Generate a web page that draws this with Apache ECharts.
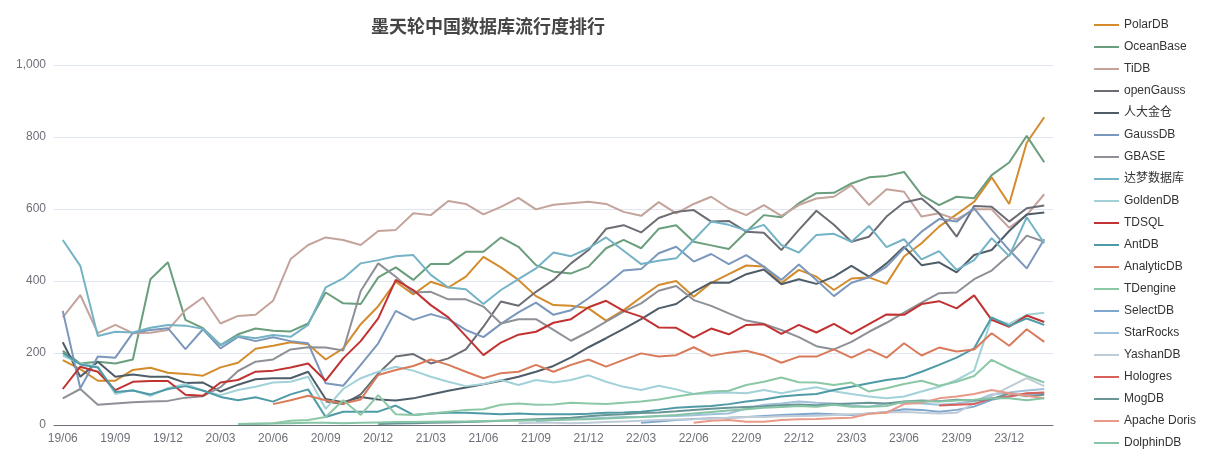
<!DOCTYPE html>
<html>
<head>
<meta charset="utf-8">
<script src="https://cdn.jsdelivr.net/npm/echarts@6/dist/echarts.min.js"></script>
<style>html,body{margin:0;padding:0;background:#fff}#c{width:1213px;height:461px}</style>
</head>
<body>
<div id="c"></div>
<script>
const months = ['19/06','19/07','19/08','19/09','19/10','19/11','19/12',
'20/01','20/02','20/03','20/04','20/05','20/06','20/07','20/08','20/09','20/10','20/11','20/12',
'21/01','21/02','21/03','21/04','21/05','21/06','21/07','21/08','21/09','21/10','21/11','21/12',
'22/01','22/02','22/03','22/04','22/05','22/06','22/07','22/08','22/09','22/10','22/11','22/12',
'23/01','23/02','23/03','23/04','23/05','23/06','23/07','23/08','23/09','23/10','23/11','23/12',
'24/01','24/02'];

const PolarDB = [180,155,123,123,153,159,145,142,137,160,173,212,220,230,224,182,213,280,330,398,363,398,382,412,467,438,403,358,333,331,324,290,319,355,389,400,356,395,419,443,440,394,431,412,375,407,410,392,468,505,551,585,620,688,614,784,855];
const OceanBase = [206,171,176,171,182,405,452,292,269,222,252,268,262,260,282,368,338,336,410,438,403,447,447,481,481,521,495,444,426,421,440,491,514,491,545,555,509,499,489,537,583,577,616,644,645,671,688,692,703,639,611,634,630,694,729,803,730];
const TiDB = [299,361,255,278,255,256,264,319,354,282,303,306,345,461,500,521,514,500,539,542,588,583,622,614,585,606,631,599,612,616,620,614,592,581,619,588,614,634,602,583,611,581,611,629,634,666,611,655,648,579,588,571,599,599,548,583,641];
const openGauss = [65,58,85,143,190,197,171,185,210,273,343,331,370,403,449,486,545,555,535,575,592,597,565,567,537,534,486,542,595,556,509,523,579,618,629,588,523,608,606,565,602,610];
const Kingbase = [230,134,176,134,140,134,134,117,118,93,112,127,130,130,148,72,63,78,71,68,74,85,95,104,113,123,134,148,164,188,216,241,267,294,324,336,370,396,395,419,432,391,405,392,412,442,412,449,495,444,452,424,472,486,539,585,590];
const GaussDB = [317,102,190,187,256,264,269,211,266,213,245,233,244,233,227,116,109,167,227,317,292,308,294,264,244,281,313,340,306,319,352,389,429,433,477,495,454,475,447,472,440,403,446,403,358,395,410,440,491,537,572,565,602,542,486,435,516];
const GBASE = [74,100,56,60,63,65,67,76,80,105,150,176,182,210,216,215,207,372,449,412,368,370,349,349,329,282,294,294,264,234,259,287,315,338,373,386,347,331,310,290,281,264,244,219,210,231,259,284,312,340,366,368,405,429,472,526,509];
const DM = [514,442,247,259,257,270,278,276,267,222,247,241,250,245,278,382,407,449,458,469,472,417,382,377,336,375,405,435,479,469,491,521,484,447,456,463,514,565,556,540,556,500,479,528,531,509,553,494,516,460,483,431,458,519,469,577,505];
const GoldenDB = [193,170,162,86,97,81,102,114,95,83,97,106,118,120,134,45,100,130,148,162,151,134,120,108,114,125,111,125,118,125,138,120,106,97,109,99,86,88,90,88,97,88,97,105,94,86,79,74,79,93,106,125,151,296,281,306,312];
const TDSQL = [100,162,148,97,120,122,122,84,81,118,125,148,151,160,171,123,185,233,296,403,375,333,299,247,194,229,251,259,284,294,327,345,317,301,271,270,243,268,252,278,280,253,278,257,281,253,280,307,306,336,344,324,360,292,273,304,286];
const AntDB = [200,168,160,92,96,85,100,108,96,78,69,77,65,85,99,22,37,37,37,54,28,32,34,34,32,30,32,30,30,30,31,34,35,37,42,48,51,53,58,65,71,79,83,86,97,106,116,125,131,148,167,187,213,299,275,296,278];
const AnalyticDB = [58,69,81,69,60,71,139,153,164,182,167,148,130,144,148,167,148,167,182,162,181,199,190,194,216,192,201,206,194,173,190,190,210,187,210,187,227,193,215,204,210,255,220,266,231];
const TDengine = [3,4,5,12,14,22,69,28,83,30,28,32,37,42,44,56,60,56,57,62,60,58,62,65,71,79,86,93,95,111,120,132,119,118,111,118,93,102,114,123,109,120,136,181,157,136,118];
const SelectDB = [6,10,14,17,19,20,22,25,28,30,32,30,28,32,36,44,42,37,42,51,70,80,86,88];
const StarRocks = [10,14,16,18,20,22,22,24,25,27,30,32,46,56,60,65,62,60,54,51,60,62,60,56,60,66,85,90,96,100];
const YashanDB = [5,6,6,5,6,8,10,12,14,15,16,18,20,22,22,24,25,26,28,30,32,35,36,34,32,34,60,81,106,130,108];
const Hologres = [54,56,58,74,79,88,90];
const MogDB = [3,4,5,6,7,8,10,12,14,16,18,20,24,28,30,33,35,38,42,45,48,50,52,55,57,55,58,60,62,60,65,68,66,70,68,72,88,80,84];
const ApacheDoris = [6,12,14,9,9,14,16,17,19,20,31,34,58,62,74,79,86,97,88,81,74];
const DolphinDB = [3,3,4,5,6,6,5,6,7,8,8,9,10,10,11,12,12,13,14,15,16,18,20,22,25,28,32,36,40,44,48,50,53,51,56,51,51,53,65,65,65,68,70,74,74,69,74];

const seriesDefs = [
  ['PolarDB', '19/06', PolarDB, '#d38b2c'],
  ['OceanBase', '19/06', OceanBase, '#6a9e7c'],
  ['TiDB', '19/06', TiDB, '#c4a39b'],
  ['openGauss', '20/09', openGauss, '#6c6c74'],
  ['人大金仓', '19/06', Kingbase, '#4f5d68'],
  ['GaussDB', '19/06', GaussDB, '#7b97bb'],
  ['GBASE', '19/06', GBASE, '#8e9097'],
  ['达梦数据库', '19/06', DM, '#74b3c6'],
  ['GoldenDB', '19/06', GoldenDB, '#a2d2d8'],
  ['TDSQL', '19/06', TDSQL, '#c13232'],
  ['AntDB', '19/06', AntDB, '#4e9aa6'],
  ['AnalyticDB', '20/06', AnalyticDB, '#d97b5a'],
  ['TDengine', '20/04', TDengine, '#8cc7a6'],
  ['SelectDB', '22/03', SelectDB, '#7fa7cd'],
  ['StarRocks', '21/09', StarRocks, '#a1c0da'],
  ['YashanDB', '21/08', YashanDB, '#bfcbd6'],
  ['Hologres', '23/08', Hologres, '#d9615c'],
  ['MogDB', '20/12', MogDB, '#6a9595'],
  ['Apache Doris', '22/06', ApacheDoris, '#e89a88'],
  ['DolphinDB', '20/04', DolphinDB, '#86c4a6']
];

const chart = echarts.init(document.getElementById('c'));
const font = '"Liberation Sans", "Noto Sans CJK SC", sans-serif';
chart.setOption({
  animation: false,
  textStyle: { fontFamily: font },
  color: seriesDefs.map(d => d[3]),
  title: {
    text: '墨天轮中国数据库流行度排行',
    left: 366, top: 14,
    textStyle: { fontSize: 18, fontWeight: 'bold', color: '#464646', fontFamily: font }
  },
  legend: {
    orient: 'vertical', left: 1089, top: 14, itemGap: 10,
    icon: 'rect', itemWidth: 25, itemHeight: 2,
    textStyle: { fontSize: 12, color: '#333', fontFamily: font },
    data: seriesDefs.map(d => d[0])
  },
  grid: { left: 54, right: 160, top: 65, bottom: 36, containLabel: false },
  xAxis: {
    type: 'category', data: months, boundaryGap: true,
    axisLabel: { interval: 2, color: '#6E7079', fontSize: 12, margin: 8 },
    axisTick: { alignWithLabel: true, interval: 2 },
    axisLine: { lineStyle: { color: '#6E7079' } }
  },
  yAxis: {
    type: 'value', min: 0, max: 1000, interval: 200,
    axisLabel: { color: '#6E7079', fontSize: 12 },
    splitLine: { lineStyle: { color: '#E0E6F1' } }
  },
  series: seriesDefs.map(d => {
    const s = months.indexOf(d[1]);
    return {
      name: d[0], type: 'line', symbol: 'none', showSymbol: false,
      lineStyle: { width: 2 },
      data: d[2].map((v, k) => [months[s + k], v])
    };
  })
});
</script>
</body>
</html>
